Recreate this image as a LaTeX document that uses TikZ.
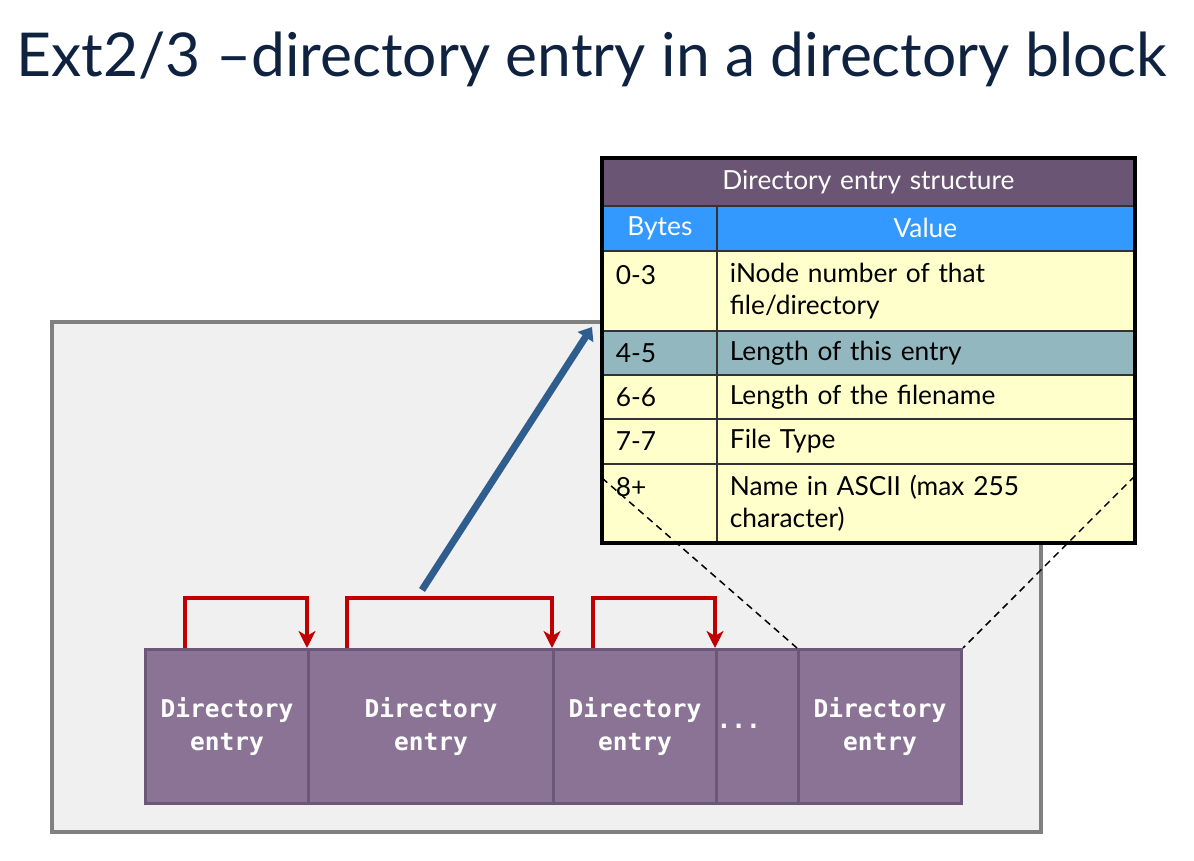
\documentclass[tikz,border=0pt]{standalone}
\usepackage{fontspec}
\setmainfont{Lato}
\setmonofont{DejaVu Sans Mono}
\usetikzlibrary{arrows.meta}

\definecolor{titleblue}{HTML}{0F2341}
\definecolor{headpurple}{HTML}{6B5574}
\definecolor{headblue}{HTML}{3399FF}
\definecolor{cellyellow}{HTML}{FFFFCC}
\definecolor{cellteal}{HTML}{93B7BE}
\definecolor{entryfill}{HTML}{8A7394}
\definecolor{entryline}{HTML}{6B5878}
\definecolor{linkred}{HTML}{C00000}
\definecolor{zoomblue}{HTML}{2F5E8E}
\definecolor{blockgray}{HTML}{F0F0F0}

\begin{document}
\begin{tikzpicture}[x=1pt, y=-1pt,
	cell/.style={draw=black!80, line width=1.8pt, anchor=north west, inner xsep=13pt, inner ysep=0pt, align=left, font=\fontsize{26.3}{32}\selectfont},
	bytecell/.style={cell, text width=88pt, minimum width=114pt},
	valuecell/.style={cell, text width=391pt, minimum width=417pt},
	headcell/.style={cell, text=white, align=center},
	entry/.style={draw=entryline, fill=entryfill, line width=3pt, anchor=north west, minimum height=154pt, inner sep=0pt, text=white, align=center, font=\ttfamily\bfseries\fontsize{24.5}{33}\selectfont},
	link/.style={draw=linkred, line width=3.5pt, -{Stealth[length=17pt, width=17pt, inset=5pt]}},
	zoomarrow/.style={draw=zoomblue, line width=7pt, -{Triangle[length=12pt, width=18pt]}},
	zoomline/.style={dashed, dash pattern=on 7pt off 5pt, line width=1.5pt}]
	\useasboundingbox (0,0) rectangle (1194,861);
	\fill[white] (0,0) rectangle (1194,861);
	\node[anchor=base west, inner sep=0pt, text=titleblue, font=\fontsize{60.5}{61}\selectfont] (title)at(16, 77) {Ext2/3 –directory entry in a directory block};

	% directory block
	\draw[fill=blockgray, draw=black!50, line width=3.5pt] (52,322) rectangle (1041,832);
	\node[entry, minimum width=163pt] (e1)at(144, 648) {Directory\\entry};
	\node[entry, minimum width=245pt] (e2)at(307, 648) {Directory\\entry};
	\node[entry, minimum width=163pt] (e3)at(552, 648) {Directory\\entry};
	\node[entry, minimum width=82pt, text width=82pt, align=left] (e4)at(715, 648) {...};
	\node[entry, minimum width=163pt] (e5)at(797, 648) {Directory\\entry};

	% record lengths
	\draw[link] ([xshift=41pt]e1.north west) -- ++(0,-50) -| (e2.north west);
	\draw[link] ([xshift=40pt]e2.north west) -- ++(0,-50) -| (e3.north west);
	\draw[link] ([xshift=41pt]e3.north west) -- ++(0,-50) -| (e4.north west);

	% structure table
	\node[headcell, fill=headpurple, text width=505pt, minimum width=531pt, minimum height=47pt] (th)at(602, 158) {Directory entry structure};
	\node[headcell, fill=headblue, text width=88pt, minimum width=114pt, minimum height=45pt] (hb)at(602, 205) {Bytes};
	\node[headcell, fill=headblue, text width=391pt, minimum width=417pt, minimum height=45pt] (hv)at(716, 205) {Value};
	\node[bytecell, fill=cellyellow, minimum height=80pt] (r1a)at(602, 250) {0-3\\\mbox{}};
	\node[valuecell, fill=cellyellow, minimum height=80pt] (r1b)at(716, 250) {iNode number of that\\file/directory};
	\node[bytecell, fill=cellteal, minimum height=44pt] (r2a)at(602, 330) {4-5};
	\node[valuecell, fill=cellteal, minimum height=44pt] (r2b)at(716, 330) {Length of this entry};
	\node[bytecell, fill=cellyellow, minimum height=44pt] (r3a)at(602, 374) {6-6};
	\node[valuecell, fill=cellyellow, minimum height=44pt] (r3b)at(716, 374) {Length of the filename};
	\node[bytecell, fill=cellyellow, minimum height=45pt] (r4a)at(602, 418) {7-7};
	\node[valuecell, fill=cellyellow, minimum height=45pt] (r4b)at(716, 418) {File Type};
	\node[bytecell, fill=cellyellow, minimum height=78pt] (r5a)at(602, 463) {8+\\\mbox{}};
	\node[valuecell, fill=cellyellow, minimum height=78pt] (r5b)at(716, 463) {Name in ASCII (max 255\\character)};
	\draw[line width=3.5pt] (th.north west) rectangle (r5b.south east);

	% zoom into one entry
	\draw[zoomarrow] ([xshift=115pt, yshift=58pt]e2.north west) -- ([xshift=-10pt, yshift=3pt]r2a.north west);
	\draw[zoomline] ([yshift=-15pt]r5a.north west) -- (e5.north west);
	\draw[zoomline] ([yshift=-13pt]r5b.north east) -- (e5.north east);
\end{tikzpicture}
\end{document}
